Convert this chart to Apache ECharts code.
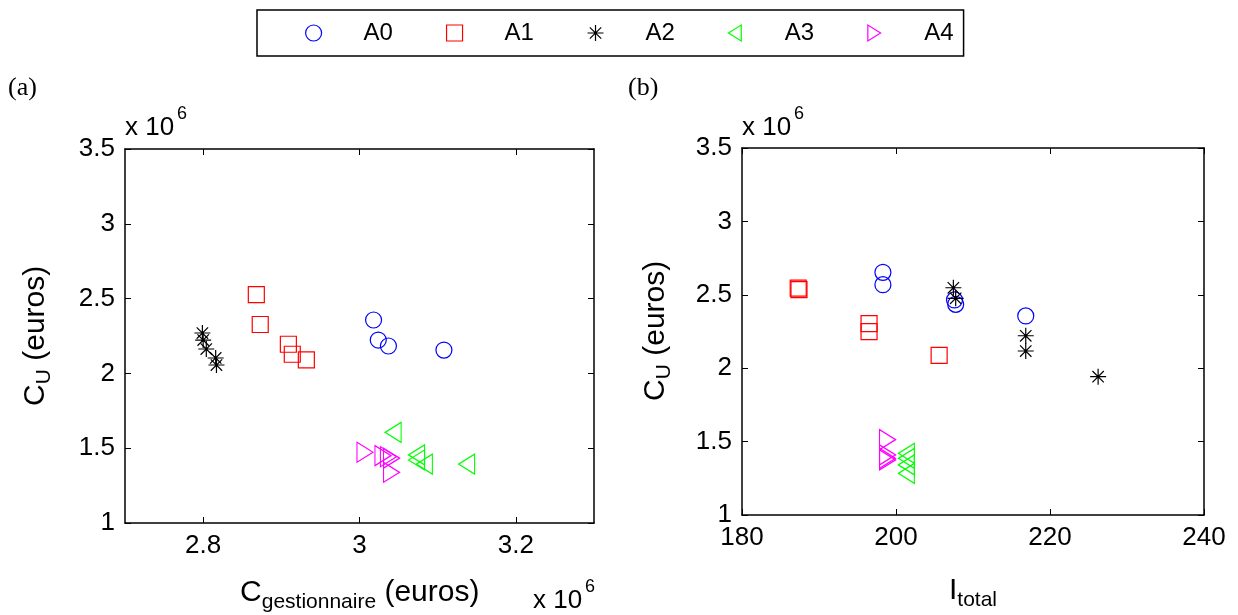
<!DOCTYPE html>
<html><head><meta charset="utf-8">
<script src="https://cdn.jsdelivr.net/npm/echarts@6/dist/echarts.min.js"></script>
<style>html,body{margin:0;padding:0;background:#fff}#c{width:1238px;height:615px}</style>
</head><body><div id="c"></div><script>
// ---- data (values in the units shown on the axes; C values are x 10^6 euros) ----
const seriesNames = ['A0', 'A1', 'A2', 'A3', 'A4'];
const seriesColors = ['#0000ff', '#ff0000', '#000000', '#00ff00', '#ff00ff'];

// Panel (a): x = C_gestionnaire (x10^6 euros), y = C_U (x10^6 euros)
const a_A0 = [[3.018, 2.357], [3.024, 2.223], [3.037, 2.183], [3.108, 2.156]];
const a_A1 = [[2.868, 2.527], [2.873, 2.327], [2.909, 2.195], [2.914, 2.128], [2.932, 2.090]];
const a_A2 = [[2.799, 2.270], [2.800, 2.223], [2.804, 2.163], [2.816, 2.103], [2.817, 2.056]];
const a_A3 = [[3.043, 1.606], [3.073, 1.455], [3.073, 1.421], [3.083, 1.394], [3.137, 1.394]];
const a_A4 = [[3.007, 1.473], [3.030, 1.450], [3.037, 1.443], [3.041, 1.433], [3.041, 1.339]];

// Panel (b): x = I_total, y = C_U (x10^6 euros)
const b_A0 = [[198.3, 2.653], [198.3, 2.569], [207.6, 2.465], [207.75, 2.435], [216.85, 2.356]];
const b_A1 = [[187.3, 2.545], [187.4, 2.535], [196.5, 2.303], [196.5, 2.249], [205.6, 2.088]];
const b_A2 = [[207.45, 2.548], [207.75, 2.476], [216.85, 2.221], [216.85, 2.117], [226.25, 1.942]];
const b_A3 = [[201.35, 1.420], [201.35, 1.386], [201.35, 1.341], [201.35, 1.284]];
const b_A4 = [[198.9, 1.513], [198.9, 1.409], [198.9, 1.386], [198.9, 1.375]];

const xTicksA = [2.8, 3.0, 3.2];
const xTicksB = [180, 200, 220, 240];
const yTicks = [1, 1.5, 2, 2.5, 3, 3.5];

// ---- styling ----
const SANS = 'Liberation Sans';
const SERIF = 'Liberation Serif';
const symbols = [
  'circle',
  'rect',
  'path://M8,0 L8,16 M0,8 L16,8 M2.3,2.3 L13.7,13.7 M13.7,2.3 L2.3,13.7',
  'path://M0,10 L16,0 L16,20 Z',
  'path://M16,10 L0,0 L0,20 Z'
];
const symbolSizes = [16, 16, 16, [16, 20], [16, 20]];

function axis(extra) {
  const base = {
    type: 'value',
    axisLine: { show: true, onZero: false, lineStyle: { color: '#000', width: 1.5 } },
    axisTick: { show: true, inside: true, length: 6, lineStyle: { color: '#000', width: 1 } },
    splitLine: { show: false },
    axisLabel: { color: '#000', fontFamily: SANS, fontSize: 26 }
  };
  const out = Object.assign({}, base, extra);
  if (extra.axisLabel) out.axisLabel = Object.assign({}, base.axisLabel, extra.axisLabel);
  if (extra.axisTick) out.axisTick = Object.assign({}, base.axisTick, extra.axisTick);
  return out;
}

const xAxes = [
  axis({ gridIndex: 0, position: 'bottom', min: 2.7, max: 3.3,
    axisLabel: { customValues: xTicksA, margin: 10, formatter: v => String(+v.toFixed(1)) },
    axisTick: { customValues: xTicksA } }),
  axis({ gridIndex: 0, position: 'top', min: 2.7, max: 3.3,
    axisLabel: { show: false }, axisTick: { customValues: xTicksA } }),
  axis({ gridIndex: 1, position: 'bottom', min: 180, max: 240, interval: 20,
    axisLabel: { margin: 10 } }),
  axis({ gridIndex: 1, position: 'top', min: 180, max: 240, interval: 20,
    axisLabel: { show: false } })
];
const yAxes = [
  axis({ gridIndex: 0, position: 'left', min: 1, max: 3.5, interval: 0.5, axisLabel: { margin: 10 } }),
  axis({ gridIndex: 0, position: 'right', min: 1, max: 3.5, interval: 0.5, axisLabel: { show: false } }),
  axis({ gridIndex: 1, position: 'left', min: 1, max: 3.5, interval: 0.5, axisLabel: { margin: 10 } }),
  axis({ gridIndex: 1, position: 'right', min: 1, max: 3.5, interval: 0.5, axisLabel: { show: false } })
];

const panelA = [a_A0, a_A1, a_A2, a_A3, a_A4];
const panelB = [b_A0, b_A1, b_A2, b_A3, b_A4];
const series = [];
[[panelA, 0, 0], [panelB, 2, 2]].forEach(([panel, xi, yi]) => {
  panel.forEach((data, k) => {
    series.push({
      type: 'scatter', name: seriesNames[k], xAxisIndex: xi, yAxisIndex: yi, data: data,
      symbol: symbols[k], symbolSize: symbolSizes[k],
      itemStyle: { color: 'rgba(0,0,0,0)', borderColor: seriesColors[k], borderWidth: 1.2, opacity: 1 },
      emphasis: { disabled: true }, silent: true
    });
  });
});

function txt(x, y, text, size, family, extra) {
  return { type: 'text', x: x, y: y, silent: true,
    style: Object.assign({ text: text, fontSize: size, fontFamily: family || SANS, fill: '#000',
      align: 'left', textAlign: 'left', verticalAlign: 'middle', textVerticalAlign: 'middle' }, extra || {}) };
}

const graphic = [
  txt(8, 88, '(a)', 26, SERIF),
  txt(628, 88, '(b)', 26, SERIF),
  // exponent labels
  txt(125, 128, 'x 10', 26), txt(177, 114, '6', 18),
  txt(742, 128, 'x 10', 26), txt(794, 114, '6', 18),
  txt(533, 601, 'x 10', 26), txt(585, 587, '6', 18),
  // x-axis titles
  { type: 'group', x: 240, y: 593, children: [
    txt(0, 0, 'C', 30), txt(21.7, 9, 'gestionnaire', 21), txt(136.1, 0, ' (euros)', 30) ] },
  { type: 'group', x: 949, y: 591, children: [
    txt(0, 0, 'I', 30), txt(8.3, 9, 'total', 21) ] },
  // y-axis titles
  { type: 'group', x: 36, y: 406, rotation: Math.PI / 2, children: [
    txt(0, 0, 'C', 30), txt(21.7, 8, 'U', 21), txt(36.9, 0, ' (euros)', 30) ] },
  { type: 'group', x: 656, y: 401, rotation: Math.PI / 2, children: [
    txt(0, 0, 'C', 30), txt(21.7, 8, 'U', 21), txt(36.9, 0, ' (euros)', 30) ] }
];

const chart = echarts.init(document.getElementById('c'), null, { renderer: 'canvas' });
chart.setOption({
  animation: false,
  backgroundColor: '#fff',
  grid: [
    { left: 125, top: 149, width: 469, height: 374 },
    { left: 742, top: 148, width: 462, height: 367 }
  ],
  xAxis: xAxes,
  yAxis: yAxes,
  legend: {
    data: seriesNames, left: 257, top: 10, orient: 'horizontal',
    itemWidth: 16, itemHeight: 16, itemGap: 53,
    padding: [11, 10, 11, 48], borderColor: '#000', borderWidth: 1.5,
    selectedMode: false,
    itemStyle: { borderWidth: 1.2 },
    formatter: n => '{t|' + n + '}',
    textStyle: { fontFamily: SANS, fontSize: 24, color: '#000',
      rich: { t: { padding: [0, 0, 0, 37], fontFamily: SANS, fontSize: 24, color: '#000' } } }
  },
  graphic: graphic,
  series: series
});
</script></body></html>
